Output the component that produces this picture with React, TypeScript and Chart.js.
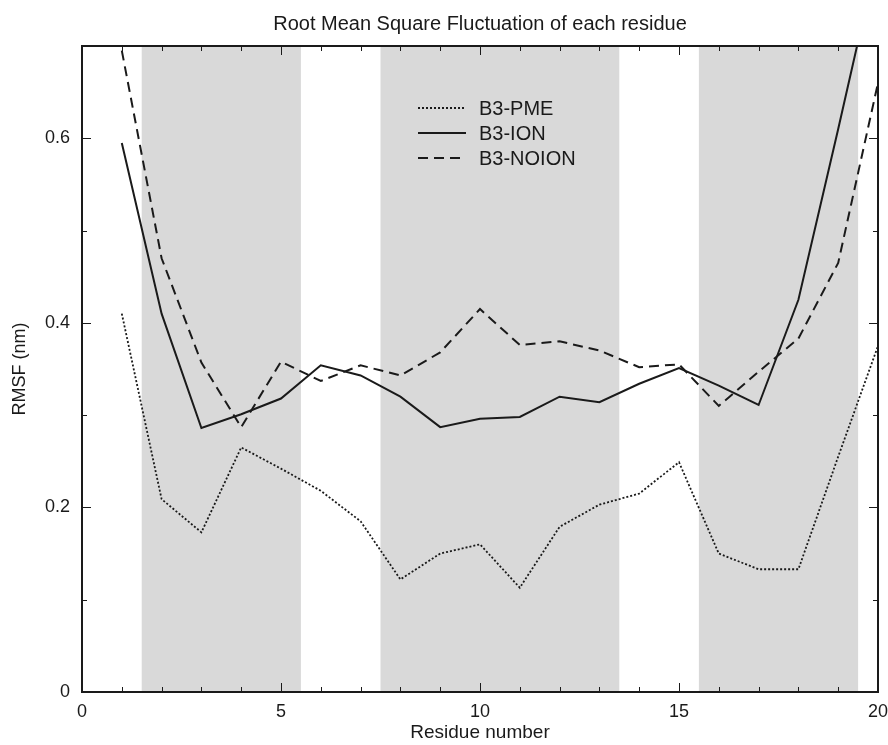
import React, { useEffect, useRef } from "react";
import { Chart, registerables } from "chart.js";

Chart.register(...registerables);

const chartTitle = "Root Mean Square Fluctuation of each residue";
const xAxisTitle = "Residue number";
const yAxisTitle = "RMSF (nm)";

const residues = [1, 2, 3, 4, 5, 6, 7, 8, 9, 10, 11, 12, 13, 14, 15, 16, 17, 18, 19, 20];
const pmeValues = [0.41, 0.209, 0.173, 0.265, 0.242, 0.218, 0.185, 0.122, 0.15, 0.16, 0.113, 0.179, 0.203, 0.215, 0.249, 0.15, 0.133, 0.133, 0.255, 0.375];
const ionValues = [0.595, 0.41, 0.286, 0.301, 0.318, 0.354, 0.343, 0.32, 0.287, 0.296, 0.298, 0.32, 0.314, 0.334, 0.351, 0.332, 0.311, 0.425, 0.61, 0.8];
const noionValues = [0.695, 0.47, 0.357, 0.287, 0.358, 0.337, 0.354, 0.343, 0.368, 0.415, 0.376, 0.38, 0.37, 0.352, 0.355, 0.31, 0.347, 0.383, 0.465, 0.66];

const seriesNames = ["B3-PME", "B3-ION", "B3-NOION"];
const shadedBands = [
  [1.5, 5.5],
  [7.5, 13.5],
  [15.5, 19.5],
];
const xMajorLabels = [0, 5, 10, 15, 20];
const yMajorLabels = [0, 0.2, 0.4, 0.6];

const FONT = "'Liberation Sans', Arial, Helvetica, sans-serif";
const INK = "#1a1a1a";

const dashes = [[2, 2], [], [10, 6]];
const widths = [1.8, 2, 2];

const bandPlugin = {
  id: "bands",
  beforeDatasetsDraw(chart: any) {
    const { ctx, chartArea, scales } = chart;
    ctx.save();
    ctx.fillStyle = "#d9d9d9";
    for (const [a, b] of shadedBands) {
      const x1 = scales.x.getPixelForValue(a);
      const x2 = scales.x.getPixelForValue(b);
      ctx.fillRect(x1, chartArea.top, x2 - x1, chartArea.bottom - chartArea.top);
    }
    ctx.restore();
  },
};

const framePlugin = {
  id: "frame",
  afterDatasetsDraw(chart: any) {
    const { ctx, chartArea, scales } = chart;
    const { left, right, top, bottom } = chartArea;
    ctx.save();
    ctx.strokeStyle = INK;
    ctx.lineWidth = 1;
    ctx.setLineDash([]);
    scales.x.ticks.forEach((t: any) => {
      const v = t.value;
      const px = Math.round(scales.x.getPixelForValue(v)) + 0.5;
      const len = xMajorLabels.includes(v) ? 9 : 5;
      ctx.beginPath();
      ctx.moveTo(px, bottom);
      ctx.lineTo(px, bottom - len);
      ctx.moveTo(px, top);
      ctx.lineTo(px, top + len);
      ctx.stroke();
    });
    scales.y.ticks.forEach((t: any) => {
      const v = t.value;
      const py = Math.round(scales.y.getPixelForValue(v)) + 0.5;
      const major = yMajorLabels.some((m) => Math.abs(m - v) < 1e-6);
      const len = major ? 9 : 5;
      ctx.beginPath();
      ctx.moveTo(left, py);
      ctx.lineTo(left + len, py);
      ctx.moveTo(right, py);
      ctx.lineTo(right - len, py);
      ctx.stroke();
    });
    ctx.lineWidth = 2;
    ctx.strokeRect(left, top, right - left, bottom - top);
    ctx.restore();
  },
};

const legendTitlePlugin = {
  id: "legendTitle",
  afterDraw(chart: any) {
    const { ctx, chartArea } = chart;
    ctx.save();
    ctx.fillStyle = INK;
    ctx.font = `20px ${FONT}`;
    ctx.textAlign = "center";
    ctx.textBaseline = "middle";
    ctx.fillText(chartTitle, (chartArea.left + chartArea.right) / 2, 24);
    const x0 = 418;
    const x1 = 466;
    const tx = 479;
    const rows = [108, 133, 158];
    ctx.textAlign = "left";
    ctx.font = `20px ${FONT}`;
    chart.data.datasets.forEach((ds: any, i: number) => {
      const y = rows[i];
      ctx.strokeStyle = ds.borderColor;
      ctx.lineWidth = ds.borderWidth;
      ctx.setLineDash(ds.borderDash || []);
      ctx.beginPath();
      ctx.moveTo(x0, y);
      ctx.lineTo(x1, y);
      ctx.stroke();
      ctx.setLineDash([]);
      ctx.fillStyle = INK;
      ctx.fillText(ds.label, tx, y + 1);
    });
    ctx.restore();
  },
};

export default function App() {
  const ref = useRef<HTMLCanvasElement | null>(null);
  useEffect(() => {
    if (!ref.current) return;
    const series = [pmeValues, ionValues, noionValues];
    const chart = new Chart(ref.current, {
      type: "line",
      data: {
        datasets: series.map((vals, i) => ({
          label: seriesNames[i],
          data: residues.map((r, j) => ({ x: r, y: vals[j] })),
          borderColor: INK,
          borderWidth: widths[i],
          borderDash: dashes[i],
          pointRadius: 0,
          fill: false,
          tension: 0,
        })),
      },
      options: {
        animation: false,
        responsive: true,
        maintainAspectRatio: false,
        layout: { padding: { left: 0, top: 46, right: 10, bottom: 0 } },
        plugins: {
          legend: { display: false },
          title: { display: false },
          tooltip: { enabled: false },
        },
        scales: {
          x: {
            type: "linear",
            min: 0,
            max: 20,
            grid: { display: false, drawTicks: false },
            border: { display: false },
            ticks: {
              stepSize: 1,
              autoSkip: false,
              maxRotation: 0,
              padding: 9,
              color: INK,
              font: { family: FONT, size: 18 },
              callback: (v: any) => (xMajorLabels.includes(Number(v)) ? String(v) : ""),
            },
            title: {
              display: true,
              text: xAxisTitle,
              color: INK,
              font: { family: FONT, size: 19 },
              padding: { top: 0, bottom: 1 },
            },
            afterFit: (s: any) => {
              s.height = 53;
              s.paddingLeft = 0;
              s.paddingRight = 0;
            },
          },
          y: {
            type: "linear",
            min: 0,
            max: 0.7,
            grid: { display: false, drawTicks: false },
            border: { display: false },
            ticks: {
              stepSize: 0.1,
              autoSkip: false,
              padding: 12,
              color: INK,
              font: { family: FONT, size: 18 },
              callback: (v: any) => {
                const n = Number(v);
                const m = yMajorLabels.find((k) => Math.abs(k - n) < 1e-6);
                return m === undefined ? "" : String(m);
              },
            },
            title: {
              display: true,
              text: yAxisTitle,
              color: INK,
              font: { family: FONT, size: 18 },
              padding: { top: 9, bottom: 0 },
            },
            afterFit: (s: any) => {
              s.width = 82;
              s.paddingTop = 0;
              s.paddingBottom = 0;
            },
          },
        },
      },
      plugins: [bandPlugin, framePlugin, legendTitlePlugin],
    });
    return () => chart.destroy();
  }, []);
  return (
    <div style={{ position: "fixed", left: 0, top: 0, width: 888, height: 745, background: "#fff" }}>
      <canvas ref={ref} />
    </div>
  );
}
